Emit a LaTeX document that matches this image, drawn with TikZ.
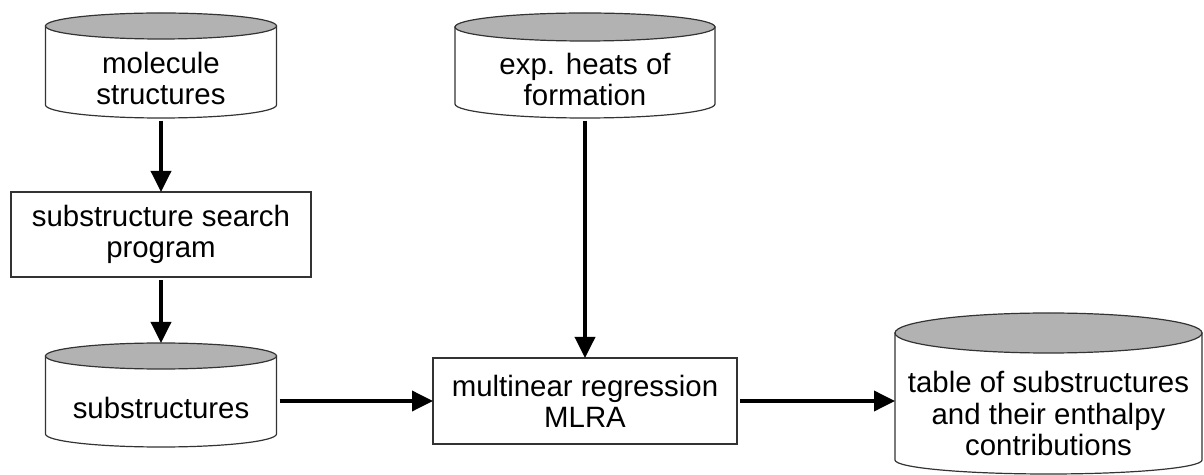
\documentclass[tikz,border=0pt]{standalone}
\usepackage{fontspec}
\setmainfont{Liberation Sans}
\usetikzlibrary{arrows.meta,calc,backgrounds}
\definecolor{capgray}{gray}{0.70}
\definecolor{edge}{gray}{0.20}
% cylinder round a node: node, top radius, bottom radius
\newcommand\drum[3]{%
  \path[draw=edge,line width=0.6pt,fill=white] let \p1=(#1.west), \p2=(#1.east), \n1={(\x2-\x1)/2} in
    ([yshift=#2]#1.north west) -- ([yshift=#3]#1.south west)
    arc[start angle=180,end angle=360,x radius=\n1,y radius=#3] -- ([yshift=#2]#1.north east) -- cycle;
  \path[draw=edge,line width=0.6pt,fill=capgray] let \p1=(#1.west), \p2=(#1.east), \n1={(\x2-\x1)/2} in
    ([yshift=#2]#1.north) ellipse[x radius=\n1,y radius=#2];
}
\begin{document}
\begin{tikzpicture}[x=0.5pt,y=-0.5pt,
  txt/.style={align=center,inner sep=0pt,outer sep=0pt,font=\fontsize{14.7}{15.6}\selectfont},
  store/.style={txt},
  proc/.style={txt,draw=edge,line width=0.6pt},
  flow/.style={-{Triangle[length=10.5pt,width=10pt]},line width=1.8pt,shorten <=1.5pt}]
  \useasboundingbox (0,0) rectangle (1204,475);
  \node[store,minimum width=115.5pt,minimum height=39.5pt] (mol) at (161,78.5) {molecule\\structures};
  \node[proc,minimum width=150pt,minimum height=42.5pt] (search) at (161,234.5) {substructure search\\program};
  \node[store,minimum width=115.5pt,minimum height=39pt] (sub) at (161,408) {substructures};
  \node[store,minimum width=130pt,minimum height=38.5pt] (heats) at (585,79.5) {exp. heats of\\formation};
  \node[proc,minimum width=152pt,minimum height=43pt] (mlra) at (585,401) {multinear regression\\MLRA};
  \node[store,minimum width=153.5pt,minimum height=60.5pt] (big) at (1048.5,413.5) {table of substructures\\and their enthalpy\\contributions};
  \begin{scope}[on background layer]
    \drum{mol}{6.5pt}{6.5pt}
    \drum{sub}{6.5pt}{6.5pt}
    \drum{heats}{7pt}{7pt}
    \drum{big}{10pt}{7pt}
  \end{scope}
  \draw[flow] (mol.south) -- (search.north);
  \draw[flow] (search.south) -- ([yshift=13pt]sub.north);
  \draw[flow] (heats.south) -- (mlra.north);
  \draw[flow] (sub.east |- mlra.west) -- (mlra.west);
  \draw[flow] (mlra.east) -- (mlra.east -| big.west);
\end{tikzpicture}
\end{document}
